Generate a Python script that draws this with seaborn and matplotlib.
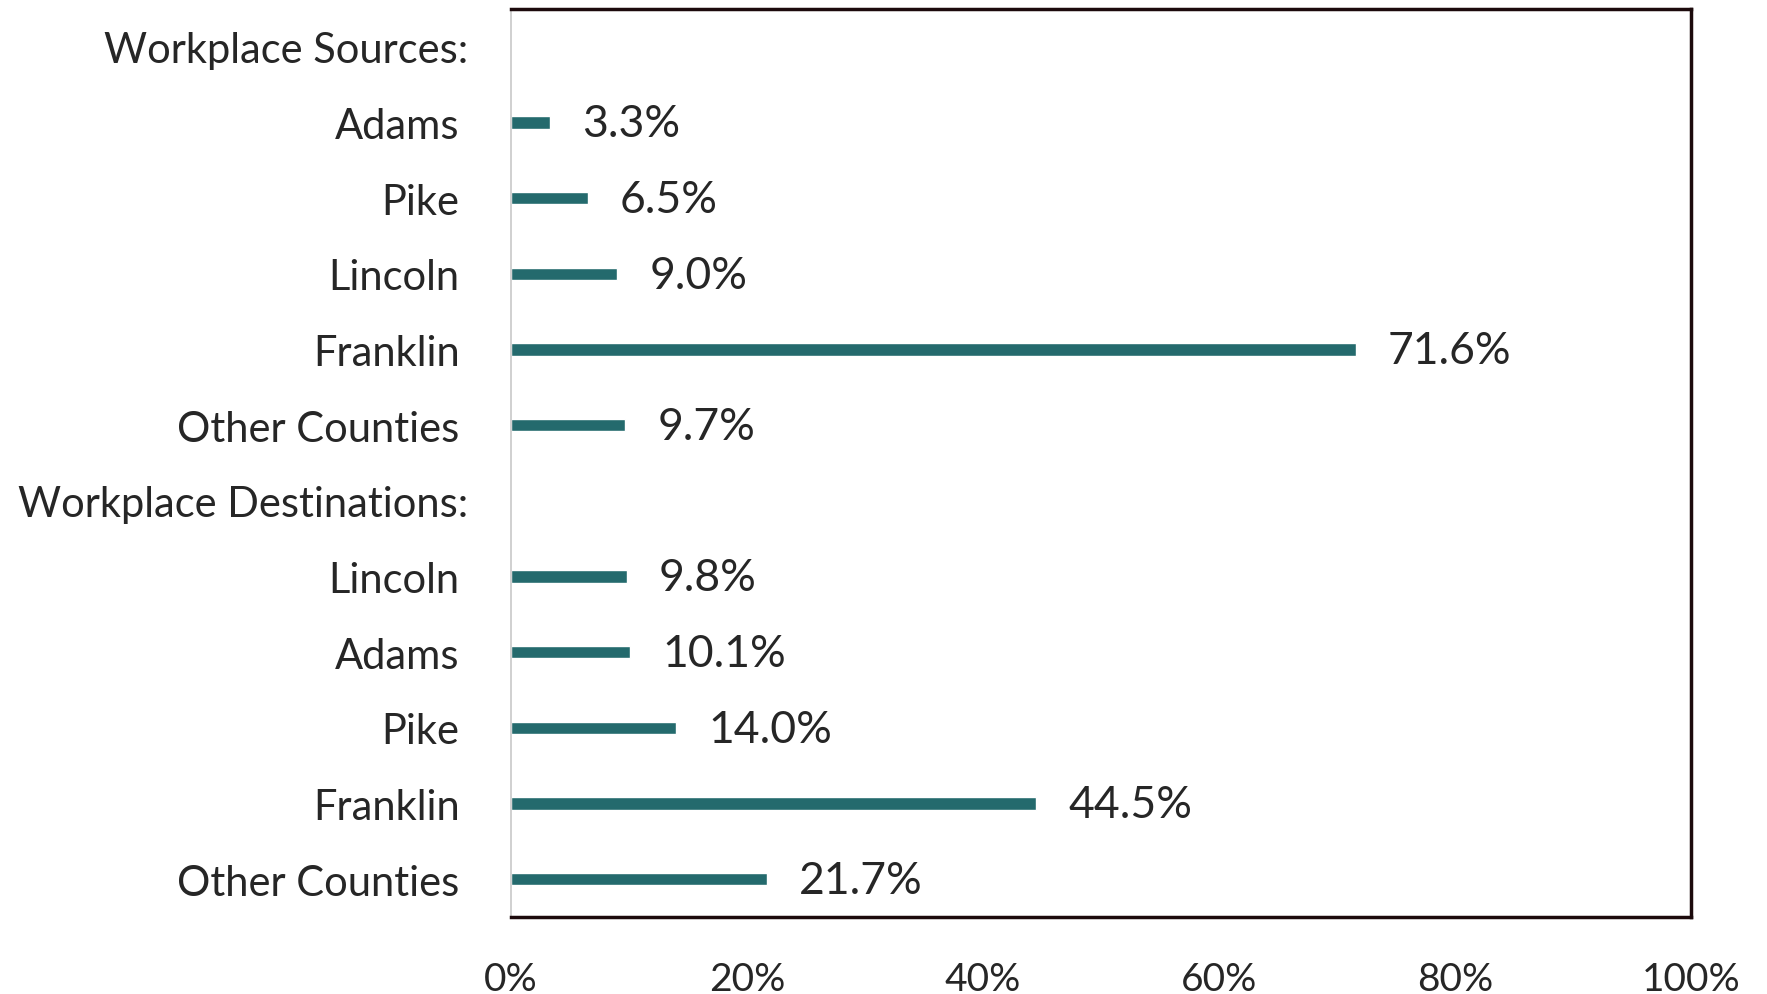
import numpy as np
import pandas as pd
import matplotlib
matplotlib.use("Agg")
import matplotlib.pyplot as plt
import matplotlib.transforms as mtransforms
import seaborn as sns

# Dados do gráfico
categorias = ["Workplace Sources:", "Adams", "Pike", "Lincoln", "Franklin", "Other Counties",
              "Workplace Destinations:", "Lincoln", "Adams", "Pike", "Franklin", "Other Counties"]
valores = [np.nan, 3.3, 6.5, 9.0, 71.6, 9.7, np.nan, 9.8, 10.1, 14.0, 44.5, 21.7]
cabecalhos = [0, 6]
xticks = [0, 20, 40, 60, 80, 100]

df = pd.DataFrame({"linha": range(len(categorias)), "valor": valores})

sns.set_style("white")
plt.rcParams["font.family"] = ["Lato", "DejaVu Sans"]
texto = "#262626"
cor_barra = "#246a6d"

fig = plt.figure(figsize=(17.67, 9.95), dpi=100)
ax = fig.add_axes([0.2892, 0.0774, 0.957 - 0.2892, 0.990 - 0.0774])

sns.barplot(data=df, x="valor", y="linha", orient="y", color=cor_barra,
            width=0.16, saturation=1, ax=ax)

ax.set_xlim(0, 100)
ax.set_ylim(len(categorias) - 0.5, -0.5)
ax.set_xticks(xticks)
ax.set_xticklabels([f"{t}%" for t in xticks], fontsize=28, color=texto)
ax.set_yticks(range(len(categorias)))
ax.set_yticklabels(categorias, fontsize=30, color=texto)
ax.tick_params(axis="x", length=0, pad=32)
ax.tick_params(axis="y", length=0, pad=37)
ax.set_xlabel("")
ax.set_ylabel("")

# cabeçalhos um pouco mais à direita
for i, lbl in enumerate(ax.get_yticklabels()):
    if i in cabecalhos:
        lbl.set_transform(lbl.get_transform() +
                          mtransforms.ScaledTranslation(9 / 100, 0, fig.dpi_scale_trans))

# rótulos de valor
for i, v in enumerate(valores):
    if np.isnan(v):
        continue
    ax.annotate(f"{v:.1f}%", xy=(v, i), xytext=(23, -1), textcoords="offset points",
                ha="left", va="center", fontsize=32, color=texto)

# bordas
for lado in ["top", "right", "bottom"]:
    ax.spines[lado].set_color("#1c0a0c")
    ax.spines[lado].set_linewidth(2.5)
ax.spines["left"].set_color("#c8c8c8")
ax.spines["left"].set_linewidth(1.2)

fig.savefig("out.png", dpi=100)
